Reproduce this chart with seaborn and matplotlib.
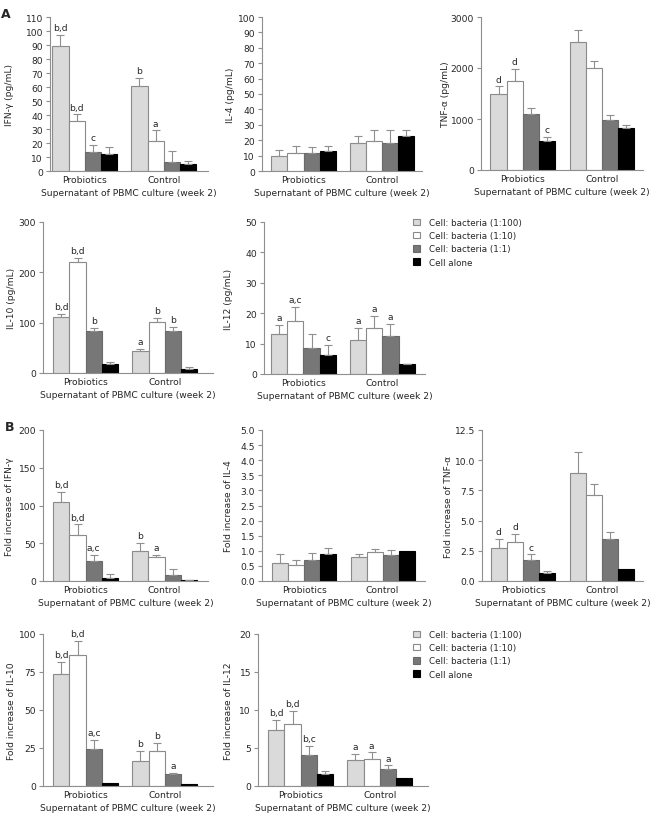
import numpy as np
import pandas as pd
import seaborn as sns
import matplotlib
matplotlib.use("Agg")
import matplotlib.pyplot as plt
from matplotlib.patches import Patch

groups = ["Probiotics", "Control"]
conditions = ["Cell: bacteria (1:100)", "Cell: bacteria (1:10)",
              "Cell: bacteria (1:1)", "Cell alone"]

# panel A: concentrations (mean, top of error bar, significance letters)
ifng_mean = [[89, 36, 13.5, 12], [61, 21.5, 6.5, 5]]
ifng_top = [[97, 40.5, 18.5, 17], [66.5, 29, 14.5, 7.5]]
ifng_sig = [["b,d", "b,d", "c", ""], ["b", "a", "", ""]]

il4_mean = [[9.5, 12, 12, 13], [18.5, 19.5, 18.5, 23]]
il4_top = [[13.5, 16.5, 15.5, 16.5], [22.5, 26.5, 26.5, 26.5]]
il4_sig = [["", "", "", ""], ["", "", "", ""]]

tnf_mean = [[1500, 1750, 1090, 565], [2515, 2000, 978, 814]]
tnf_top = [[1640, 1975, 1208, 656], [2737, 2133, 1070, 886]]
tnf_sig = [["d", "d", "", "c"], ["", "", "", ""]]

il10_mean = [[111, 220, 83, 17], [43, 101, 83, 8.5]]
il10_top = [[117, 229, 89, 22.5], [48, 110, 92, 11]]
il10_sig = [["b,d", "b,d", "b", ""], ["a", "b", "b", ""]]

il12_mean = [[13, 17.5, 8.7, 6.3], [11.3, 15.2, 12.4, 3.2]]
il12_top = [[16.2, 22.2, 13.3, 9.6], [15.1, 19.1, 16.4, 3.4]]
il12_sig = [["a", "a,c", "", "c"], ["a", "a", "a", ""]]

# panel B: fold increase
f_ifng_mean = [[105, 61, 26, 4], [40, 32, 8, 1.3]]
f_ifng_top = [[118.5, 75, 35, 9], [50, 35, 16, 1.5]]
f_ifng_sig = [["b,d", "b,d", "a,c", ""], ["b", "a", "", ""]]

f_il4_mean = [[0.6, 0.53, 0.7, 0.88], [0.78, 0.97, 0.87, 1.0]]
f_il4_top = [[0.88, 0.7, 0.93, 1.1], [0.9, 1.07, 1.03, 1.0]]
f_il4_sig = [["", "", "", ""], ["", "", "", ""]]

f_tnf_mean = [[2.73, 3.22, 1.74, 0.69], [8.9, 7.08, 3.5, 1.0]]
f_tnf_top = [[3.5, 3.88, 2.2, 0.83], [10.7, 8.0, 4.05, 1.0]]
f_tnf_sig = [["d", "d", "c", ""], ["", "", "", ""]]

f_il10_mean = [[73.5, 86, 24.5, 2.2], [16.6, 23, 8.1, 1.3]]
f_il10_top = [[81.4, 95.6, 30.4, 2.2], [23, 28.2, 8.7, 1.3]]
f_il10_sig = [["b,d", "b,d", "a,c", ""], ["b", "b", "a", ""]]

f_il12_mean = [[7.35, 8.14, 4.03, 1.53], [3.41, 3.54, 2.28, 1.0]]
f_il12_top = [[8.7, 9.85, 5.3, 1.97], [4.2, 4.42, 2.71, 1.0]]
f_il12_sig = [["b,d", "b,d", "b,c", ""], ["a", "a", "a", ""]]

sns.set_style("ticks")
plt.rcParams["font.family"] = ["DejaVu Sans"]
FS = 6.6
W, H = 653, 820

colors = ["#dadada", "#ffffff", "#777777", "#000000"]
edges = ["#8a8a8a", "#8a8a8a", "#6a6a6a", "#000000"]
axis_gray = "#8f8f8f"

fig = plt.figure(figsize=(W / 100, H / 100), dpi=100)


def panel(px, mean, top, sig, ylabel, ymax, step, fmt, xlim, ylab_px):
    left, right, ytop, ybot = px
    ax = fig.add_axes([left / W, 1 - ybot / H, (right - left) / W, (ybot - ytop) / H])
    rows = []
    for gi, g in enumerate(groups):
        for ci, c in enumerate(conditions):
            rows.append({"group": g, "cond": c, "value": mean[gi][ci]})
    df = pd.DataFrame(rows)
    sns.barplot(data=df, x="group", y="value", hue="cond", order=groups,
                hue_order=conditions, palette=colors, width=0.82,
                errorbar=None, legend=False, linewidth=0.8, ax=ax)
    bar_conts = list(ax.containers)
    for ci, cont in enumerate(bar_conts):
        for gi, bar in enumerate(cont.patches):
            bar.set_edgecolor(edges[ci])
            xc = bar.get_x() + bar.get_width() / 2
            m = mean[gi][ci]
            t = top[gi][ci]
            if t > m:
                ax.errorbar(xc, m, yerr=[[0], [t - m]], fmt="none",
                            ecolor=axis_gray, elinewidth=0.8, capsize=2.6,
                            capthick=0.8, zorder=1)
            if sig[gi][ci]:
                ax.annotate(sig[gi][ci], (xc, t), xytext=(0, 2),
                            textcoords="offset points", ha="center",
                            va="bottom", fontsize=FS)
    ax.set_xlim(*xlim)
    ax.set_ylim(0, ymax)
    ticks = np.arange(0, ymax + step / 2, step)
    ax.set_yticks(ticks)
    ax.set_yticklabels([fmt % v for v in ticks])
    ax.set_ylabel(ylabel, fontsize=FS)
    # label anchor is its right edge, so shift by half the text height
    ax.yaxis.set_label_coords((ylab_px + 4 - left) / (right - left), 0.5)
    ax.set_xlabel("Supernatant of PBMC culture (week 2)", fontsize=FS, labelpad=3)
    ax.tick_params(axis="x", length=0, pad=3, labelsize=FS)
    ax.tick_params(axis="y", length=3, width=0.8, color=axis_gray, pad=2,
                   labelsize=FS)
    for s in ["top", "right"]:
        ax.spines[s].set_visible(False)
    for s in ["left", "bottom"]:
        ax.spines[s].set_color(axis_gray)
        ax.spines[s].set_linewidth(0.8)
    return ax


panel((50, 208, 18, 172), ifng_mean, ifng_top, ifng_sig, "IFN-γ (pg/mL)",
      110, 10, "%d", (-0.44, 1.56), 10)
panel((262, 422, 18, 172), il4_mean, il4_top, il4_sig, "IL-4 (pg/mL)",
      100, 10, "%d", (-0.53, 1.51), 231)
panel((481, 643, 18, 171), tnf_mean, tnf_top, tnf_sig, "TNF-α (pg/mL)",
      3000, 1000, "%d", (-0.53, 1.52), 446)
panel((43, 213, 223, 374), il10_mean, il10_top, il10_sig, "IL-10 (pg/mL)",
      300, 100, "%d", (-0.54, 1.61), 12)
panel((264, 425, 223, 375), il12_mean, il12_top, il12_sig, "IL-12 (pg/mL)",
      50, 10, "%d", (-0.50, 1.54), 229)

panel((43, 208, 431, 582), f_ifng_mean, f_ifng_top, f_ifng_sig,
      "Fold increase of IFN-γ", 200, 50, "%d", (-0.54, 1.55), 10)
panel((262, 425, 431, 582), f_il4_mean, f_il4_top, f_il4_sig,
      "Fold increase of IL-4", 5.0, 0.5, "%.1f", (-0.54, 1.54), 229)
panel((482, 643, 431, 582), f_tnf_mean, f_tnf_top, f_tnf_sig,
      "Fold increase of TNF-α", 12.5, 2.5, "%.1f", (-0.52, 1.52), 449)
panel((43, 213, 635, 787), f_il10_mean, f_il10_top, f_il10_sig,
      "Fold increase of IL-10", 100, 25, "%d", (-0.54, 1.61), 12)
panel((258, 428, 635, 787), f_il12_mean, f_il12_top, f_il12_sig,
      "Fold increase of IL-12", 20, 5, "%d", (-0.54, 1.61), 229)

handles = [Patch(facecolor=colors[i], edgecolor=edges[i], linewidth=0.8,
                 label=conditions[i]) for i in range(4)]
for ytop in (219, 631):
    fig.legend(handles=handles, loc="upper left",
               bbox_to_anchor=(413 / W, 1 - ytop / H), frameon=False,
               fontsize=6.3, handlelength=0.75, handleheight=0.75,
               handletextpad=1.1, labelspacing=0.48, borderpad=0,
               borderaxespad=0)

fig.text(6 / W, 1 - 15 / H, "A", fontsize=9, fontweight="bold",
         ha="center", va="center")
fig.text(10 / W, 1 - 428 / H, "B", fontsize=9, fontweight="bold",
         ha="center", va="center")

fig.savefig("out.png", dpi=100)
